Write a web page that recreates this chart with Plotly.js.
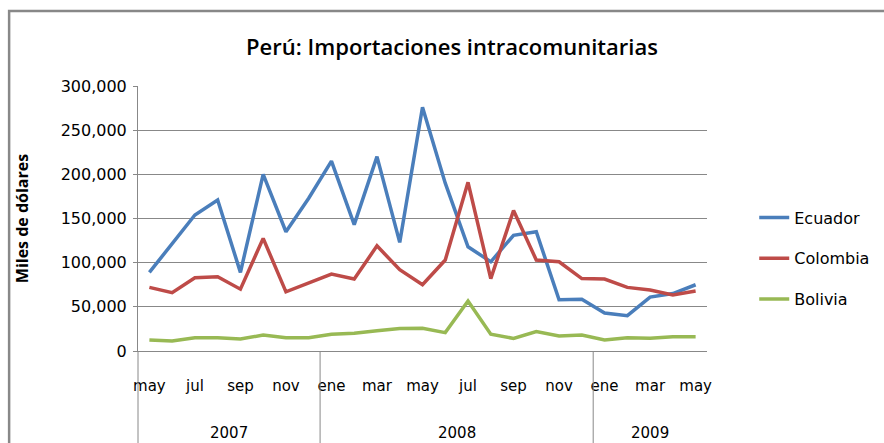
<!DOCTYPE html>
<html>
<head>
<meta charset="utf-8">
<script src="https://cdn.plot.ly/plotly-3.0.1.min.js"></script>
<style>html,body{margin:0;padding:0;background:#fff;}#chart{width:884px;height:443px;}</style>
</head>
<body>
<div id="chart"></div>
<script>
// Data (thousands of USD), May 2007 - May 2009
const monthNames = ["may","jun","jul","ago","sep","oct","nov","dic",
  "ene","feb","mar","abr","may","jun","jul","ago","sep","oct","nov","dic",
  "ene","feb","mar","abr","may"];
const monthYears = [2007,2007,2007,2007,2007,2007,2007,2007,
  2008,2008,2008,2008,2008,2008,2008,2008,2008,2008,2008,2008,
  2009,2009,2009,2009,2009];
const ecuador = [89000,122000,154000,171000,89000,200000,135000,173000,215000,143000,220000,
  123000,276000,190000,118000,101000,131000,135000,58000,58500,43000,40000,61000,65000,75000];
const colombia = [72000,66000,83000,84000,70000,127500,67000,77000,87000,81500,119000,
  92000,75000,103000,191000,82000,159000,103000,101000,82000,81500,72000,69000,63500,68000];
const bolivia = [12500,11300,15000,15000,13600,18000,15000,15000,19000,20000,23000,
  25500,25700,20800,56600,19000,14300,22000,17000,18000,12500,15000,14300,16000,16000];
const years = ["2007","2008","2009"];

const cats = monthNames.map((m,i) => m + " " + monthYears[i]);
const tickVals = cats.filter((c,i) => i % 2 === 0);
const tickText = monthNames.filter((m,i) => i % 2 === 0);

const traces = [
  {name:"Ecuador", y:ecuador, color:"#4A7EBB"},
  {name:"Colombia", y:colombia, color:"#BE4B48"},
  {name:"Bolivia", y:bolivia, color:"#98B954"}
].map((s,k) => ({
  type:"scatter", mode:"lines", x:cats, y:s.y, name:s.name,
  legendgroup:"g"+k,
  line:{color:s.color, width:3.5}
}));

// year group boundaries & centers (derived from category positions)
const n = cats.length;
const shapes = [];
const annotations = [];
years.forEach(yr => {
  const idx = monthYears.map((v,i)=>[v,i]).filter(p => String(p[0])===yr).map(p=>p[1]);
  const first = idx[0], last = idx[idx.length-1];
  shapes.push({type:"line", xref:"paper", yref:"paper", x0:first/n, x1:first/n, y0:0, y1:-0.4,
    line:{color:"#888", width:1}});
  annotations.push({xref:"paper", yref:"paper", x:(first+last+1)/2/n, y:-0.309, text:yr,
    showarrow:false, xanchor:"center", yanchor:"middle",
    font:{family:"DejaVu Sans", size:15, color:"#000"}});
});
// outer chart border
shapes.push({type:"rect", xref:"paper", yref:"paper", x0:-0.2265, x1:1.5, y0:-0.6, y1:1.283,
  line:{color:"#888", width:2.5}, fillcolor:"rgba(0,0,0,0)"});

const layout = {
  width:884, height:443,
  margin:{l:138, r:177, t:86, b:92, autoexpand:false},
  paper_bgcolor:"#fff", plot_bgcolor:"#fff",
  title:{text:"Perú: Importaciones intracomunitarias", x:452/884, xanchor:"center",
    y:1-47/443, yanchor:"middle",
    font:{family:"Open Sans", size:22, color:"#000", weight:600}},
  showlegend:true,
  legend:{x:1.083, xanchor:"left", y:0.568, yanchor:"top", traceorder:"grouped",
    tracegroupgap:17, font:{family:"DejaVu Sans", size:16, color:"#000"},
    bgcolor:"rgba(0,0,0,0)"},
  xaxis:{type:"category", categoryorder:"array", categoryarray:cats,
    range:[-0.5, n-0.5], autorange:false,
    tickvals:tickVals, ticktext:tickText, tickangle:0,
    showgrid:false, zeroline:false, showline:true, linecolor:"#888", linewidth:1,
    ticks:"", ticklabelstandoff:21,
    tickfont:{family:"DejaVu Sans", size:15, color:"#000"}},
  yaxis:{range:[0,300000], dtick:50000, tick0:0, tickformat:",",
    showgrid:true, gridcolor:"#888", gridwidth:1, zeroline:false,
    showline:true, linecolor:"#888", linewidth:1,
    ticks:"outside", ticklen:4, tickcolor:"#888", ticklabelstandoff:3,
    tickfont:{family:"DejaVu Sans", size:16, color:"#000"},
    title:{text:"Miles de dólares", standoff:28,
      font:{family:"Open Sans", size:16, color:"#000", weight:"bold"}}},
  shapes:shapes, annotations:annotations
};

Plotly.newPlot("chart", traces, layout, {displayModeBar:false, staticPlot:true});
</script>
</body>
</html>
